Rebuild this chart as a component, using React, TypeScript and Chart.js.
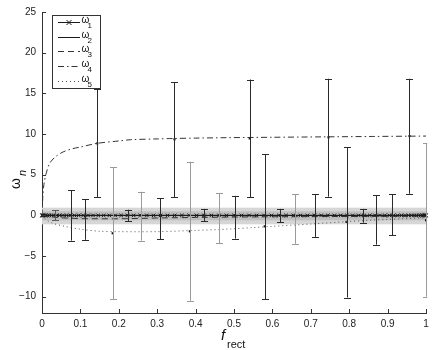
import React, { useEffect, useRef } from "react";
import { Chart, registerables } from "chart.js";

Chart.register(...registerables);

// ---------- data ----------
const xTickValues = [0, 0.1, 0.2, 0.3, 0.4, 0.5, 0.6, 0.7, 0.8, 0.9, 1];
const yTickValues = [-10, -5, 0, 5, 10, 15, 20, 25];
const legendSymbol = "ω";
const legendSubscripts = ["1", "2", "3", "4", "5"];
const xTitleMain = "f";
const xTitleSub = "rect";
const yTitleMain = "ω";
const yTitleSub = "n";

const omega1X = [
  0, 0.0004, 0.0015, 0.0035, 0.0062, 0.0096, 0.0138, 0.0188, 0.0245, 0.0309, 0.0381,
  0.0459, 0.0545, 0.0638, 0.0737, 0.0843, 0.0955, 0.1073, 0.1198, 0.1328, 0.1464,
  0.1606, 0.1753, 0.1905, 0.2061, 0.2222, 0.2388, 0.2557, 0.273, 0.2907, 0.3087,
  0.3269, 0.3455, 0.3643, 0.3833, 0.4025, 0.4218, 0.4412, 0.4608, 0.4804, 0.5,
  0.5196, 0.5392, 0.5588, 0.5782, 0.5975, 0.6167, 0.6357, 0.6545, 0.6731, 0.6913,
  0.7093, 0.727, 0.7443, 0.7612, 0.7778, 0.7939, 0.8095, 0.8247, 0.8394, 0.8536,
  0.8672, 0.8802, 0.8927, 0.9045, 0.9157, 0.9263, 0.9362, 0.9455, 0.9541, 0.9619,
  0.9691, 0.9755, 0.9812, 0.9862, 0.9904, 0.9938, 0.9965, 0.9985, 0.9996, 1,
];
const omega1Y = [
  0, 0, 0, 0, 0, 0, 0, 0, 0, 0, 0, 0, 0, 0, 0, 0, 0, 0, 0, 0, 0,
  0, 0, 0, 0, 0, 0, 0, 0, 0, 0, 0, 0, 0, 0, 0, 0, 0, 0, 0, 0,
  0, 0, 0, 0, 0, 0, 0, 0, 0, 0, 0, 0, 0, 0, 0, 0, 0, 0, 0, 0,
  0, 0, 0, 0, 0, 0, 0, 0, 0, 0, 0, 0, 0, 0, 0, 0, 0, 0, 0, 0,
];
const omega2X = [0, 1];
const omega2Y = [0, 0];
const omega3X = [0, 0.02, 0.05, 0.1, 0.15, 0.2, 0.25, 0.3, 0.4, 0.5, 0.7, 1.0];
const omega3Y = [0, -0.15, -0.3, -0.4, -0.42, -0.42, -0.38, -0.32, -0.25, -0.2, -0.15, -0.1];
const omega4X = [0, 0.002, 0.005, 0.01, 0.02, 0.035, 0.055, 0.08, 0.1, 0.143, 0.2, 0.23, 0.3, 0.34, 0.4, 0.48, 0.6, 0.73, 0.86, 1.0];
const omega4Y = [0, 2.2, 3.8, 5.0, 6.4, 7.2, 7.8, 8.2, 8.4, 8.85, 9.15, 9.3, 9.4, 9.45, 9.5, 9.55, 9.6, 9.65, 9.7, 9.75];
const omega5X = [0, 0.01, 0.03, 0.06, 0.1, 0.15, 0.2, 0.3, 0.4, 0.48, 0.55, 0.6, 0.7, 0.8, 0.9, 1.0];
const omega5Y = [0, -0.5, -1.0, -1.35, -1.7, -1.95, -2.0, -2.0, -1.85, -1.7, -1.5, -1.35, -1.06, -0.75, -0.5, -0.3];

const errX = [0.034, 0.075, 0.112, 0.144, 0.184, 0.225, 0.258, 0.308, 0.345, 0.385, 0.421, 0.462, 0.502, 0.541, 0.58, 0.62, 0.658, 0.711, 0.746, 0.793, 0.835, 0.871, 0.911, 0.957, 1.0];
const errMid = [0, 0, -0.1, 8.85, -2.2, 0, 0, 0, 9.35, -1.96, 0, 0, 0, 9.46, -1.35, 0, 0, 0, 9.6, -0.8, 0, 0, 0, 9.75, -0.6];
const errLow = [-0.6, -3.1, -3.0, 2.25, -10.3, -0.7, -3.1, -2.95, 2.2, -10.5, -0.7, -3.4, -2.85, 2.2, -10.3, -0.85, -3.5, -2.65, 2.3, -10.1, -0.9, -3.6, -2.45, 2.65, -10.0];
const errHigh = [0.6, 3.1, 2.0, 15.5, 5.9, 0.7, 2.9, 2.1, 16.4, 6.6, 0.8, 2.7, 2.4, 16.7, 7.55, 0.8, 2.6, 2.6, 16.8, 8.4, 0.8, 2.5, 2.6, 16.8, 8.85];

const bandOuter = [-1.1, 0.95];
const bandInner = [-0.6, 0.5];

// ---------- styles ----------
const errTone = ["d", "k", "k", "k", "g", "k", "g", "k", "k", "g", "k", "g", "k", "k", "k", "k", "g", "k", "k", "k", "k", "k", "k", "k", "g"];
const toneColor: Record<string, string> = { k: "#2a2a2a", g: "#9a9a9a", d: "#5a5a5a" };
const FONT = '"Liberation Sans", Arial, sans-serif';

const pts = (xs: number[], ys: number[]) => xs.map((x, i) => ({ x, y: ys[i] }));

const lineStyles = [
  { color: "#1a1a1a", dash: [] as number[] },
  { color: "#1a1a1a", dash: [] as number[] },
  { color: "#333333", dash: [6, 4] },
  { color: "#333333", dash: [6, 3, 1.5, 3] },
  { color: "#555555", dash: [1, 3] },
];

const decorPlugin = {
  id: "decor",
  beforeDatasetsDraw(chart: any) {
    const { ctx, chartArea: a, scales } = chart;
    const y = scales.y;
    ctx.save();
    const o1 = y.getPixelForValue(bandOuter[1]);
    const o0 = y.getPixelForValue(bandOuter[0]);
    ctx.fillStyle = "#d6d6d6";
    ctx.fillRect(a.left, o1, a.right - a.left, o0 - o1);
    const i1 = y.getPixelForValue(bandInner[1]);
    const i0 = y.getPixelForValue(bandInner[0]);
    ctx.fillStyle = "#bfbfbf";
    ctx.fillRect(a.left, i1, a.right - a.left, i0 - i1);
    ctx.restore();
  },
  afterDatasetsDraw(chart: any) {
    const { ctx, chartArea: a, scales } = chart;
    const { x, y } = scales;
    ctx.save();
    ctx.beginPath();
    ctx.rect(a.left, a.top - 2, a.right - a.left + 1.2, a.bottom - a.top + 4);
    ctx.clip();
    ctx.lineWidth = 1;
    for (let i = 0; i < errX.length; i++) {
      const px = Math.round(x.getPixelForValue(errX[i])) + 0.5;
      const lo = y.getPixelForValue(errLow[i]);
      const hi = y.getPixelForValue(errHigh[i]);
      ctx.strokeStyle = toneColor[errTone[i]];
      ctx.beginPath();
      ctx.moveTo(px, lo);
      ctx.lineTo(px, hi);
      ctx.moveTo(px - 3.5, Math.round(lo) + 0.5);
      ctx.lineTo(px + 3.5, Math.round(lo) + 0.5);
      ctx.moveTo(px - 3.5, Math.round(hi) + 0.5);
      ctx.lineTo(px + 3.5, Math.round(hi) + 0.5);
      ctx.stroke();
    }
    ctx.restore();
  },
  afterDraw(chart: any) {
    const { ctx, chartArea: a, scales } = chart;
    const { x, y } = scales;
    ctx.save();
    // inward ticks
    ctx.strokeStyle = "#333";
    ctx.lineWidth = 1;
    ctx.beginPath();
    for (const v of xTickValues) {
      const px = Math.round(x.getPixelForValue(v)) + 0.5;
      ctx.moveTo(px, a.bottom);
      ctx.lineTo(px, a.bottom - 4);
    }
    for (const v of yTickValues) {
      const py = Math.round(y.getPixelForValue(v)) + 0.5;
      ctx.moveTo(a.left, py);
      ctx.lineTo(a.left + 4, py);
    }
    ctx.stroke();

    // x title
    ctx.fillStyle = "#111";
    ctx.textAlign = "left";
    ctx.textBaseline = "alphabetic";
    ctx.font = `italic 15px ${FONT}`;
    ctx.fillText(xTitleMain, 221, 340);
    ctx.font = `11px ${FONT}`;
    ctx.fillText(xTitleSub, 227, 348);

    // y title (rotated)
    ctx.save();
    ctx.rotate(-Math.PI / 2);
    ctx.font = `14px ${FONT}`;
    ctx.fillText(yTitleMain, -189, 20);
    ctx.font = `italic 11px ${FONT}`;
    ctx.fillText(yTitleSub, -176, 25.5);
    ctx.restore();

    // legend
    const bx = 52.5, by = 15.5, bw = 48, bh = 73;
    ctx.fillStyle = "#fff";
    ctx.fillRect(bx, by, bw, bh);
    ctx.strokeStyle = "#333";
    ctx.strokeRect(bx, by, bw, bh);
    for (let i = 0; i < legendSubscripts.length; i++) {
      const ly = Math.round(22 + i * 14.7) + 0.5;
      const st = lineStyles[i];
      ctx.strokeStyle = st.color;
      ctx.setLineDash(st.dash);
      ctx.beginPath();
      ctx.moveTo(58, ly);
      ctx.lineTo(80, ly);
      ctx.stroke();
      ctx.setLineDash([]);
      if (i === 0) {
        ctx.beginPath();
        ctx.moveTo(66.5, ly - 2.5);
        ctx.lineTo(71.5, ly + 2.5);
        ctx.moveTo(66.5, ly + 2.5);
        ctx.lineTo(71.5, ly - 2.5);
        ctx.stroke();
      }
      ctx.fillStyle = "#111";
      ctx.font = `10px ${FONT}`;
      ctx.fillText(legendSymbol, 81.5, ly + 0.5);
      ctx.font = `8px ${FONT}`;
      ctx.fillText(legendSubscripts[i], 87.5, ly + 5.5);
    }
    ctx.restore();
  },
};

const fmtY = (v: number) => (v < 0 ? "\u2212" + Math.abs(v) : String(v));
const fmtX = (v: number) => (v === 0 ? "0" : v === 1 ? "1" : v.toFixed(1));

export default function App() {
  const ref = useRef<HTMLCanvasElement | null>(null);
  useEffect(() => {
    if (!ref.current) return;
    const lineDs = (xs: number[], ys: number[], i: number, extra: any = {}) => ({
      data: pts(xs, ys),
      showLine: true,
      borderColor: lineStyles[i].color,
      borderDash: lineStyles[i].dash,
      borderWidth: 1,
      pointRadius: 0,
      tension: 0,
      ...extra,
    });
    const chart = new Chart(ref.current, {
      type: "scatter",
      data: {
        datasets: [
          lineDs(omega2X, omega2Y, 1),
          lineDs(omega3X, omega3Y, 2),
          lineDs(omega4X, omega4Y, 3, { tension: 0.3 }),
          lineDs(omega5X, omega5Y, 4, { tension: 0.3 }),
          lineDs(omega1X, omega1Y, 0, {
            pointRadius: 2.5,
            pointStyle: "crossRot",
            pointBorderColor: "#1a1a1a",
            pointBorderWidth: 1,
            clip: 4,
          }),
          {
            data: pts(errX, errMid),
            showLine: false,
            pointRadius: 1.5,
            pointStyle: "rect",
            backgroundColor: "#111",
            borderColor: "#111",
            borderWidth: 0,
            clip: 4,
          },
        ] as any,
      },
      options: {
        animation: false,
        responsive: false,
        devicePixelRatio: 1,
        events: [],
        layout: { padding: { top: 10, right: 10, left: 0, bottom: 0 } },
        plugins: { legend: { display: false }, tooltip: { enabled: false } },
        scales: {
          x: {
            type: "linear",
            min: 0,
            max: 1,
            grid: { display: false, drawTicks: false },
            border: { display: true, color: "#333", width: 1 },
            ticks: {
              autoSkip: false,
              maxRotation: 0,
              padding: 5,
              color: "#222",
              font: { family: FONT, size: 10 },
              callback: (v: any) => fmtX(Number(v)),
            },
            afterBuildTicks: (s: any) => {
              s.ticks = xTickValues.map((v) => ({ value: v }));
            },
            afterFit: (s: any) => {
              s.height = 37;
            },
          },
          y: {
            type: "linear",
            min: -12,
            max: 25,
            grid: { display: false, drawTicks: false },
            border: { display: true, color: "#333", width: 1 },
            ticks: {
              autoSkip: false,
              padding: 6,
              color: "#222",
              font: { family: FONT, size: 10 },
              callback: (v: any) => fmtY(Number(v)),
            },
            afterBuildTicks: (s: any) => {
              s.ticks = yTickValues.map((v) => ({ value: v }));
            },
            afterFit: (s: any) => {
              s.width = 42;
            },
          },
        },
      } as any,
      plugins: [decorPlugin],
    });
    return () => chart.destroy();
  }, []);
  return (
    <div style={{ position: "fixed", left: 0, top: 0, width: 436, height: 350, background: "#fff" }}>
      <canvas ref={ref} width={436} height={350} />
    </div>
  );
}
